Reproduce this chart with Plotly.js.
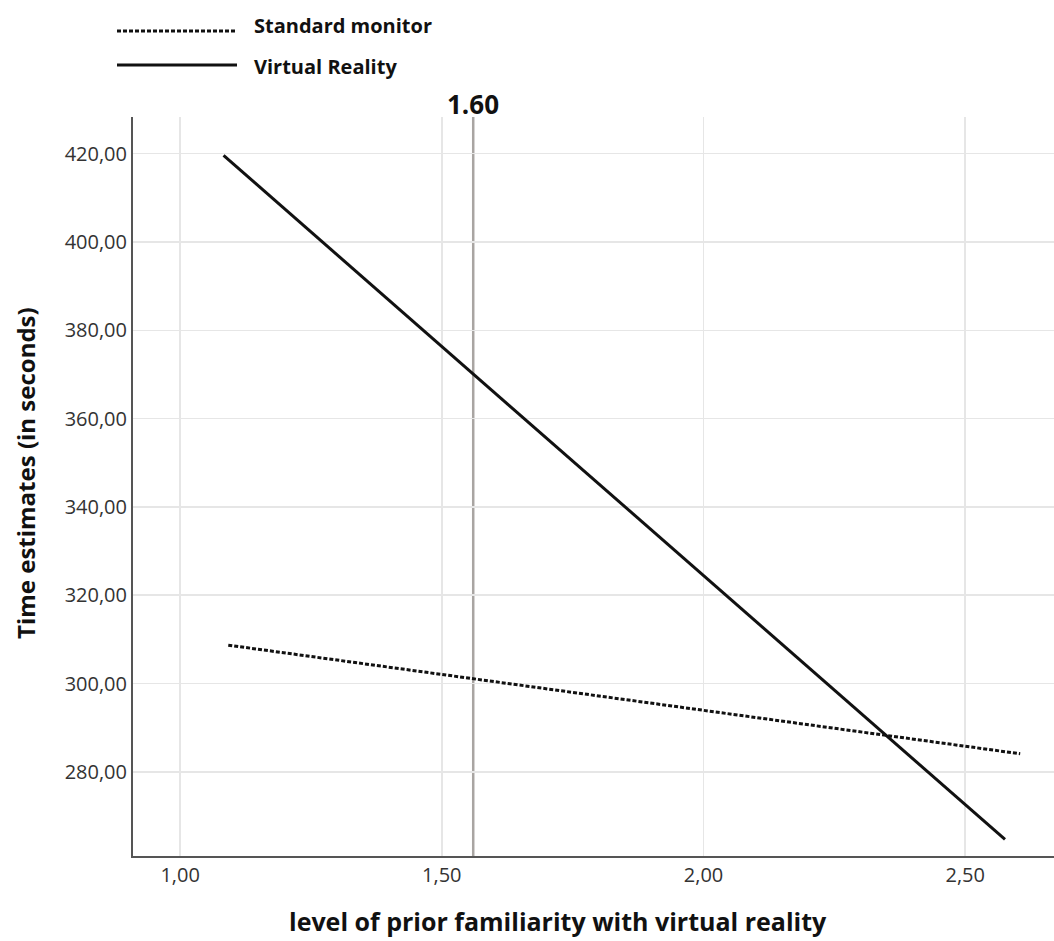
<!DOCTYPE html>
<html>
<head>
<meta charset="utf-8">
<script src="https://cdn.plot.ly/plotly-3.0.1.min.js"></script>
<style>html,body{margin:0;padding:0;background:#fff;}#chart{width:1054px;height:941px;}</style>
</head>
<body>
<div id="chart"></div>
<script>
// Data
const familiarity_standard = [1.092, 2.605];
const time_standard = [308.7, 284.1];
const familiarity_vr = [1.083, 2.576];
const time_vr = [419.6, 264.7];
const markerX = 1.56;
const markerLabel = "1.60";
const xTickVals = [1.0, 1.5, 2.0, 2.5];
const xTickText = ["1,00", "1,50", "2,00", "2,50"];
const yTickVals = [280, 300, 320, 340, 360, 380, 400, 420];
const yTickText = ["280,00", "300,00", "320,00", "340,00", "360,00", "380,00", "400,00", "420,00"];
const seriesNames = ["Standard monitor", "Virtual Reality"];

const FONT = "Open Sans, Noto Sans, sans-serif";
const W = 1054, H = 941;
const M = {l: 133, r: 0, t: 117, b: 85};
const pw = W - M.l - M.r, ph = H - M.t - M.b;
const px = v => (v - M.l) / pw;
const py = v => 1 - (v - M.t) / ph;

const traces = [
  {x: familiarity_standard, y: time_standard, mode: 'lines', name: seriesNames[0],
   line: {color: '#111', width: 3, dash: '4px,2px'}, showlegend: false, hoverinfo: 'skip'},
  {x: familiarity_vr, y: time_vr, mode: 'lines', name: seriesNames[1],
   line: {color: '#111', width: 3}, showlegend: false, hoverinfo: 'skip'}
];

const layout = {
  width: W, height: H,
  margin: M,
  paper_bgcolor: '#fff', plot_bgcolor: '#fff',
  font: {family: FONT, color: '#222'},
  xaxis: {
    range: [0.910, 2.6696], tickvals: xTickVals, ticktext: xTickText,
    showgrid: true, gridcolor: '#e6e6e6', gridwidth: 1.5,
    showline: true, linecolor: '#555', linewidth: 2, zeroline: false,
    ticks: '', tickfont: {size: 20, color: '#333', family: FONT}, fixedrange: true
  },
  yaxis: {
    range: [260.95, 428.3], tickvals: yTickVals, ticktext: yTickText,
    showgrid: true, gridcolor: '#e6e6e6', gridwidth: 1.5,
    showline: true, linecolor: '#555', linewidth: 2, zeroline: false,
    ticks: '', tickfont: {size: 20, color: '#333', family: FONT}, fixedrange: true
  },
  shapes: [
    {type: 'line', xref: 'x', yref: 'paper', x0: markerX, x1: markerX, y0: 0, y1: 1,
     line: {color: '#a9a5a2', width: 2.5}, layer: 'below'},
    {type: 'line', xref: 'paper', yref: 'paper', x0: px(117), x1: px(237), y0: py(31), y1: py(31),
     line: {color: '#111', width: 3, dash: '4px,2px'}},
    {type: 'line', xref: 'paper', yref: 'paper', x0: px(117), x1: px(237), y0: py(65), y1: py(65),
     line: {color: '#111', width: 3}}
  ],
  annotations: [
    {text: '<b>' + markerLabel + '</b>', xref: 'x', yref: 'paper', x: markerX, y: py(104),
     showarrow: false, xanchor: 'center', yanchor: 'middle', font: {size: 26, color: '#111', family: FONT}},
    {text: '<b>' + seriesNames[0] + '</b>', xref: 'paper', yref: 'paper', x: px(252), y: py(25),
     showarrow: false, xanchor: 'left', yanchor: 'middle', font: {size: 20, color: '#111', family: FONT}},
    {text: '<b>' + seriesNames[1] + '</b>', xref: 'paper', yref: 'paper', x: px(252), y: py(66),
     showarrow: false, xanchor: 'left', yanchor: 'middle', font: {size: 20, color: '#111', family: FONT}},
    {text: '<b>level of prior familiarity with virtual reality</b>', xref: 'paper', yref: 'paper',
     x: px(558), y: py(921), showarrow: false, xanchor: 'center', yanchor: 'middle',
     font: {size: 25, color: '#111', family: FONT}},
    {text: '<b>Time estimates (in seconds)</b>', xref: 'paper', yref: 'paper',
     x: px(25), y: py(473), showarrow: false, xanchor: 'center', yanchor: 'middle', textangle: -90,
     font: {size: 24, color: '#111', family: FONT}}
  ]
};

Plotly.newPlot('chart', traces, layout, {staticPlot: true, displayModeBar: false});
</script>
</body>
</html>
